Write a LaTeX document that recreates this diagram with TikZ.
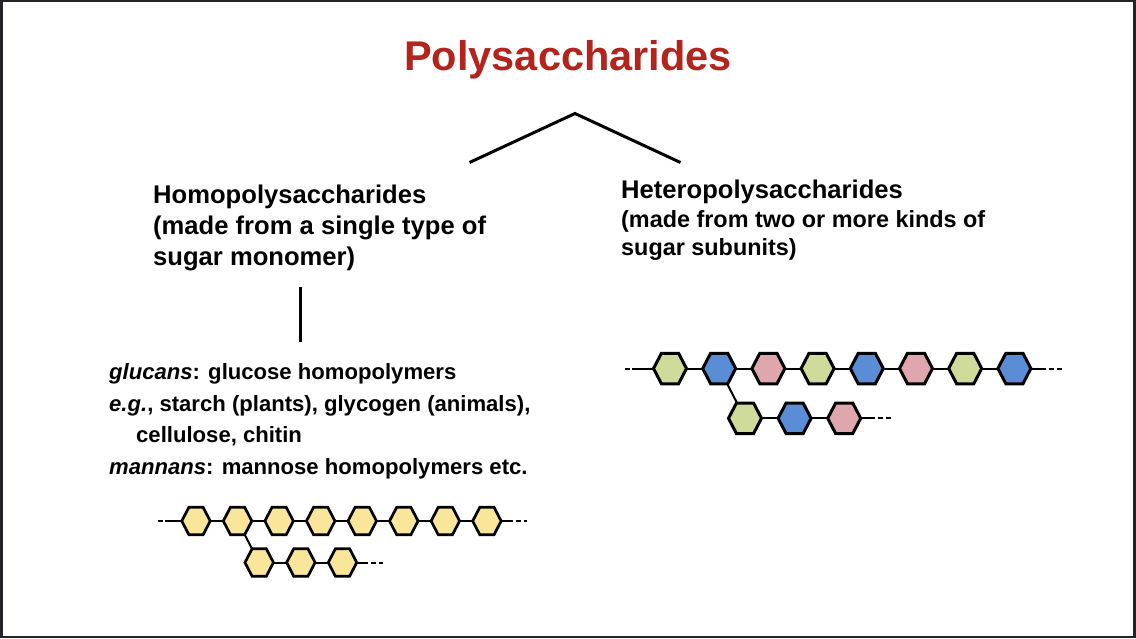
\documentclass[tikz,border=0pt]{standalone}
\usepackage{fontspec}
\setmainfont{Liberation Sans}
\usetikzlibrary{positioning,shapes.symbols}
\definecolor{titlered}{RGB}{178,36,28}
\definecolor{framegray}{RGB}{36,36,40}
\definecolor{hexyel}{RGB}{250,230,154}
\definecolor{hexgrn}{RGB}{206,219,155}
\definecolor{hexblu}{RGB}{90,141,214}
\definecolor{hexpnk}{RGB}{223,166,174}
\tikzset{
  hexa/.style  ={signal,signal to=east and west,signal pointer angle=125,draw=black,
                 inner sep=0pt,outer sep=0pt,line width=2.7pt,line join=miter},
  small/.style ={hexa,minimum width=28.5pt,minimum height=27.5pt,fill=hexyel},
  big/.style   ={hexa,minimum width=33pt,minimum height=30.5pt,line width=3pt},
  bond/.style  ={line width=2pt},
  tail/.style  ={line width=2pt,dash pattern=on 0pt off 2.5pt on 5pt off 3.5pt on 5pt off 9pt},
  txt/.style   ={inner sep=0pt,anchor=base west,align=left,font=\bfseries\fontsize{25.6}{31}\selectfont},
  tree/.style  ={line width=3pt},
}
\begin{document}
\begin{tikzpicture}[x=1pt,y=-1pt]
  % frame
  \fill[framegray] (0,0) rectangle (1136,638);
  \fill[white] (3,1.5) rectangle (1133,636);
  \node[inner sep=0pt,anchor=base,text=titlered,font=\bfseries\fontsize{41.5}{48}\selectfont] (title) at (568,70) {Polysaccharides};
  % branches
  \coordinate (apex) at (575,113.5);
  \coordinate (lft) at (469.5,162.5);
  \coordinate (rgt) at (680.5,162.5);
  \draw[tree] (lft) -- (apex) -- (rgt);
  % (base of a multi-line node = its last line)
  \node[txt] (homo) at (153,265) {Homopolysaccharides\\(made from a single type of\\sugar monomer)};
  \node[txt] (hetero) at (621,198) {Heteropolysaccharides};
  \node[txt,font=\bfseries\fontsize{23.4}{28}\selectfont] (hetsub) at (621,255) {(made from two or more kinds of\\sugar subunits)};
  \coordinate (vtop) at (300,287);
  \coordinate (vbot) at (300,342);
  \draw[tree] (vtop) -- (vbot);
  \node[txt,font=\bfseries\fontsize{22.1}{31.5}\selectfont] (ex) at (109,474) {\textit{glucans}: glucose homopolymers\\\textit{e.g.}, starch (plants), glycogen (animals),\\\hspace*{27pt}cellulose, chitin\\\textit{mannans}: mannose homopolymers etc.};
  % homopolymer chain
  \foreach \i in {1,...,8}{
    \node[small] (y\i) at ({196+(\i-1)*41.56},521) {};}
  \foreach \i in {1,2,3}{
    \node[small] (z\i) at ({259.2+(\i-1)*41.65},562.5) {};}
  \foreach \i [count=\j from 2] in {1,...,7}{\draw[bond] (y\i) -- (y\j);}
  \draw[bond] (z1) -- (z2); \draw[bond] (z2) -- (z3);
  \draw[bond] (y2) -- (z1);
  \coordinate (ya) at (165,521); \coordinate (yb) at (156.5,521);
  \coordinate (yc) at (513,521); \coordinate (yd) at (527,521);
  \coordinate (za) at (368,562.5); \coordinate (zb) at (383,562.5);
  \draw[bond] (y1) -- (ya); \draw[tail] (ya) -- (yb);
  \draw[bond] (y8) -- (yc); \draw[tail] (yc) -- (yd);
  \draw[bond] (z3) -- (za); \draw[tail] (za) -- (zb);
  % heteropolymer chain
  \foreach \c [count=\i] in {hexgrn,hexblu,hexpnk,hexgrn,hexblu,hexpnk,hexgrn,hexblu}{
    \node[big,fill=\c] (h\i) at ({670+(\i-1)*49.2},368.5) {};}
  \foreach \c [count=\i] in {hexgrn,hexblu,hexpnk}{
    \node[big,fill=\c] (k\i) at ({745+(\i-1)*49.6},418.3) {};}
  \foreach \i [count=\j from 2] in {1,...,7}{\draw[bond] (h\i) -- (h\j);}
  \draw[bond] (k1) -- (k2); \draw[bond] (k2) -- (k3);
  \draw[bond] (h2) -- (k1);
  \coordinate (ha) at (632,368.5); \coordinate (hb) at (622,368.5);
  \coordinate (hc) at (1046,368.5); \coordinate (hd) at (1062,368.5);
  \coordinate (ka) at (875,418.3); \coordinate (kb) at (891,418.3);
  \draw[bond] (h1) -- (ha); \draw[tail] (ha) -- (hb);
  \draw[bond] (h8) -- (hc); \draw[tail] (hc) -- (hd);
  \draw[bond] (k3) -- (ka); \draw[tail] (ka) -- (kb);
\end{tikzpicture}
\end{document}
